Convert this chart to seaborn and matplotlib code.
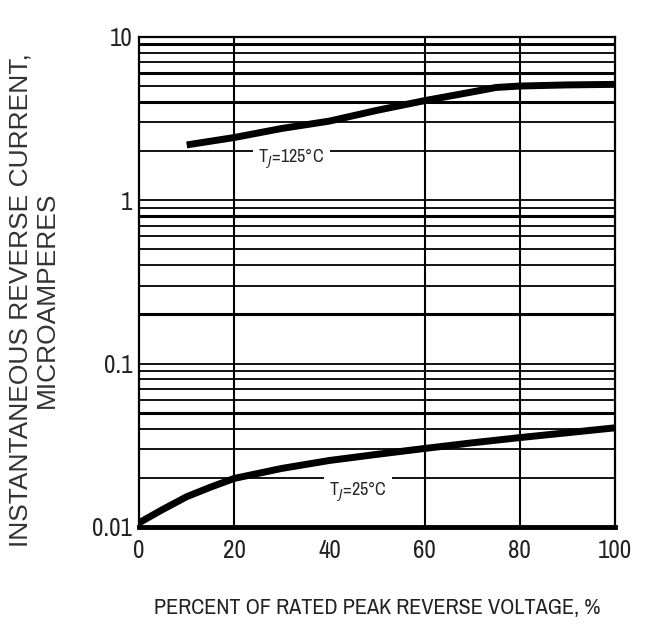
import numpy as np
import pandas as pd
import matplotlib.pyplot as plt
import seaborn as sns

# Datos (corriente inversa vs % de voltaje inverso)
pct_125 = [10, 20, 30, 40, 50, 60, 70, 75, 80, 90, 100]
ir_125 = [2.18, 2.42, 2.75, 3.05, 3.55, 4.07, 4.6, 4.9, 5.0, 5.08, 5.12]
pct_25 = [0, 5, 10, 15, 20, 30, 40, 50, 60, 70, 80, 90, 100]
ir_25 = [0.0106, 0.0128, 0.0153, 0.0175, 0.0198, 0.0228, 0.0255, 0.0278,
         0.0302, 0.0327, 0.0352, 0.0377, 0.0404]

x_ticks = [0, 20, 40, 60, 80, 100]
x_grid = [20, 60, 80]
y_ticks = [0.01, 0.1, 1, 10]
y_tick_labels = ["0.01", "0.1", "1", "10"]
thick_grid = [9, 6, 4, 0.8, 0.2, 0.05]

df = pd.concat([
    pd.DataFrame({"pct": pct_125, "ir": ir_125, "tj": "125"}),
    pd.DataFrame({"pct": pct_25, "ir": ir_25, "tj": "25"}),
])

sns.set_style("white")
narrow = ["Archivo Narrow", "Roboto Condensed", "DejaVu Sans"]
plt.rcParams["font.family"] = narrow

fig = plt.figure(figsize=(6.5, 6.25), dpi=100)
ax = fig.add_axes([0.214, 0.157, 0.732, 0.784])

sns.lineplot(data=df, x="pct", y="ir", units="tj", estimator=None,
             color="black", lw=5, ax=ax, zorder=5, solid_capstyle="butt")

ax.set_yscale("log")
ax.set_xlim(0, 100)
ax.set_ylim(0.01, 10)

# Rejilla horizontal en 1..9 de cada decada
ax.yaxis.set_minor_locator(plt.LogLocator(base=10, subs=np.arange(2, 10)))
ax.yaxis.set_minor_formatter(plt.NullFormatter())
ax.grid(which="both", axis="y", color="black", lw=1.3)
for v in thick_grid:
    ax.axhline(v, color="black", lw=2.2, zorder=1)
for v in x_grid:
    ax.axvline(v, color="black", lw=1.5, zorder=1)

ax.set_xticks(x_ticks)
ax.set_xticklabels([str(t) for t in x_ticks])
ax.set_yticks(y_ticks)
ax.set_yticklabels(y_tick_labels)
ax.tick_params(which="both", length=0, labelsize=18, colors="#222222")
ax.tick_params(axis="x", pad=9)
ax.tick_params(axis="y", pad=5)

for s in ["left", "right", "top"]:
    ax.spines[s].set_color("black")
    ax.spines[s].set_linewidth(1.6)
ax.spines["bottom"].set_color("black")
ax.spines["bottom"].set_linewidth(3.5)

ax.set_xlabel("")
ax.set_ylabel("")

box = dict(facecolor="white", edgecolor="none", pad=4)
ax.text(32, 1.80, "T$_J$=125°C", fontsize=13, ha="center", va="center",
        bbox=box, zorder=3)
ax.text(46, 0.0164, "T$_J$=25°C", fontsize=13, ha="center", va="center",
        bbox=box, zorder=3)

fig.text(377 / 650, 1 - 608 / 625, "PERCENT OF RATED PEAK REVERSE VOLTAGE, %",
         ha="center", va="center", fontsize=16, color="#222222")
fig.text(0.052, 0.52, "INSTANTANEOUS REVERSE CURRENT,\nMICROAMPERES",
         rotation=90, ha="center", va="center", multialignment="center",
         fontsize=19, linespacing=1.1, family=["Liberation Sans", "DejaVu Sans"],
         color="#333333")

plt.savefig("out.png", dpi=100)
